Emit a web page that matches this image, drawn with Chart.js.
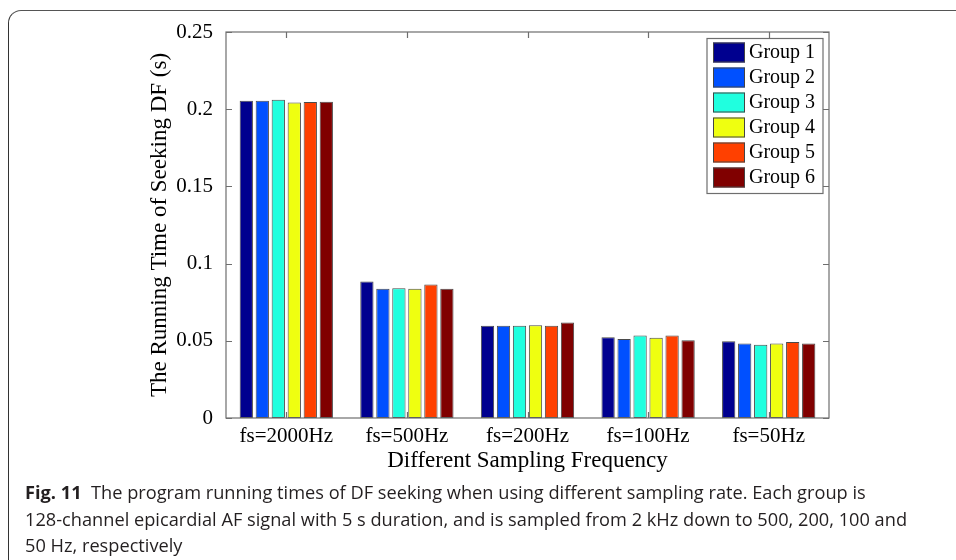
<!DOCTYPE html>
<html>
<head>
<meta charset="utf-8">
<script src="https://cdn.jsdelivr.net/npm/chart.js@4.4.1/dist/chart.umd.min.js"></script>
<style>
  html, body { margin: 0; padding: 0; background: #fff; }
  body { width: 956px; height: 560px; position: relative; overflow: hidden; }
  #frame {
    position: absolute; left: 8px; top: 10px; width: 1100px; height: 700px;
    border-left: 1.5px solid #333; border-top: 1.5px solid #555;
    border-top-left-radius: 13px; box-sizing: border-box;
  }
  #plot { position: absolute; left: 0; top: 0; }
  #caption {
    position: absolute; left: 25px; top: 479px;
    font-family: "Open Sans", "Noto Sans", sans-serif; font-size: 18px;
    line-height: 26.5px; color: #231f20; white-space: nowrap;
  }
  #caption div { transform-origin: 0 50%; }
  #caption b { font-weight: 700; }
</style>
</head>
<body>
<div id="frame"></div>
<canvas id="plot" width="956" height="480"></canvas>
<div id="caption">
  <div><b>Fig. 11</b>&nbsp; The program running times of DF seeking when using different sampling rate. Each group is</div>
  <div>128-channel epicardial AF signal with 5 s duration, and is sampled from 2 kHz down to 500, 200, 100 and</div>
  <div>50 Hz, respectively</div>
</div>
<script>
// Sampling frequencies on the x axis
const categories = ['fs=2000Hz', 'fs=500Hz', 'fs=200Hz', 'fs=100Hz', 'fs=50Hz'];

// Running time (s) of DF seeking for each signal group
const group1 = [0.2054, 0.0884, 0.0597, 0.0523, 0.0497];
const group2 = [0.2054, 0.0837, 0.0597, 0.0512, 0.0482];
const group3 = [0.2062, 0.0841, 0.0597, 0.0534, 0.0475];
const group4 = [0.2043, 0.0837, 0.0601, 0.0519, 0.0482];
const group5 = [0.2047, 0.0865, 0.0597, 0.0534, 0.0493];
const group6 = [0.2049, 0.0837, 0.0618, 0.0504, 0.0482];

const groupNames = ['Group 1', 'Group 2', 'Group 3', 'Group 4', 'Group 5', 'Group 6'];
const groupColors = ['#00008f', '#0050ff', '#20ffdf', '#efff10', '#ff4000', '#800000'];

const yTickValues = [0, 0.05, 0.1, 0.15, 0.2, 0.25];
const yTickLabels = ['0', '0.05', '0.1', '0.15', '0.2', '0.25'];

const SERIF = '"Liberation Serif", "Times New Roman", serif';
const AXIS_GREY = '#6e6e6e';

// MATLAB-style box with inward ticks on all four sides
const boxAxes = {
  id: 'boxAxes',
  afterDatasetsDraw(chart) {
    const { ctx, chartArea: a, scales } = chart;
    const t = 6;
    ctx.save();
    ctx.strokeStyle = AXIS_GREY;
    ctx.lineWidth = 1.2;
    ctx.strokeRect(a.left, a.top, a.right - a.left, a.bottom - a.top);
    ctx.beginPath();
    yTickValues.forEach(v => {
      const y = Math.round(scales.y.getPixelForValue(v)) + 0.5;
      ctx.moveTo(a.left, y); ctx.lineTo(a.left + t, y);
      ctx.moveTo(a.right, y); ctx.lineTo(a.right - t, y);
    });
    categories.forEach((c, i) => {
      const x = Math.round(scales.x.getPixelForValue(i)) + 0.5;
      ctx.moveTo(x, a.bottom); ctx.lineTo(x, a.bottom - t);
      ctx.moveTo(x, a.top); ctx.lineTo(x, a.top + t);
    });
    ctx.stroke();
    ctx.restore();
  }
};

// Legend box drawn inside the upper-right corner of the plot
const insideLegend = {
  id: 'insideLegend',
  afterDraw(chart) {
    const { ctx, chartArea: a } = chart;
    const boxW = 116, rowH = 25;
    const x0 = a.right - 6 - boxW, y0 = a.top + 6.5;
    const n = chart.data.datasets.length;
    ctx.save();
    ctx.fillStyle = '#fff';
    ctx.fillRect(x0, y0, boxW, n * rowH + 5);
    ctx.strokeStyle = AXIS_GREY;
    ctx.lineWidth = 1.2;
    ctx.strokeRect(x0, y0, boxW, n * rowH + 5);
    ctx.font = '20px ' + SERIF;
    ctx.textBaseline = 'middle';
    ctx.textAlign = 'left';
    chart.data.datasets.forEach((ds, i) => {
      const sy = y0 + 4 + i * rowH;
      ctx.fillStyle = ds.backgroundColor;
      ctx.fillRect(x0 + 6, sy, 32, 20);
      ctx.strokeStyle = '#444';
      ctx.lineWidth = 1;
      ctx.strokeRect(x0 + 6.5, sy + 0.5, 31, 19);
      ctx.fillStyle = '#000';
      ctx.fillText(ds.label, x0 + 42, sy + 10.5);
    });
    ctx.restore();
  }
};

const seriesValues = [group1, group2, group3, group4, group5, group6];

new Chart(document.getElementById('plot'), {
  type: 'bar',
  data: {
    labels: categories,
    datasets: seriesValues.map((vals, i) => ({
      label: groupNames[i],
      data: vals,
      backgroundColor: groupColors[i],
      borderColor: '#4a4a4a',
      borderWidth: 1,
      borderSkipped: false,
      categoryPercentage: 0.796,
      barPercentage: 0.83
    }))
  },
  options: {
    responsive: false,
    animation: false,
    devicePixelRatio: 1,
    layout: { padding: { left: 140, right: 127, top: 32, bottom: 0 } },
    plugins: {
      legend: { display: false },
      tooltip: { enabled: false }
    },
    scales: {
      x: {
        grid: { display: false },
        border: { display: false },
        ticks: { color: '#000', font: { family: SERIF, size: 21 }, padding: -2, maxRotation: 0 },
        title: {
          display: true, text: 'Different Sampling Frequency', color: '#000',
          font: { family: SERIF, size: 23 }, padding: { top: 0, bottom: 5 }
        },
        afterFit(s) { s.height = 62; }
      },
      y: {
        min: 0, max: 0.25,
        afterBuildTicks(s) { s.ticks = yTickValues.map(v => ({ value: v })); },
        grid: { display: false },
        border: { display: false },
        ticks: {
          color: '#000', font: { family: SERIF, size: 21 }, padding: 5,
          callback: (v) => yTickLabels[yTickValues.indexOf(v)] ?? ''
        },
        title: {
          display: true, text: 'The Running Time of Seeking DF (s)', color: '#000',
          font: { family: SERIF, size: 23 }, padding: { top: 6, bottom: 0 }
        },
        afterFit(s) { s.width = 86; }
      }
    }
  },
  plugins: [boxAxes, insideLegend]
});

// Fit the caption lines to the column width
const lines = document.querySelectorAll('#caption div');
const w = lines[1].scrollWidth;
const k = 882 / w;
lines.forEach(d => { d.style.transform = 'scaleX(' + k + ')'; });
</script>
</body>
</html>
